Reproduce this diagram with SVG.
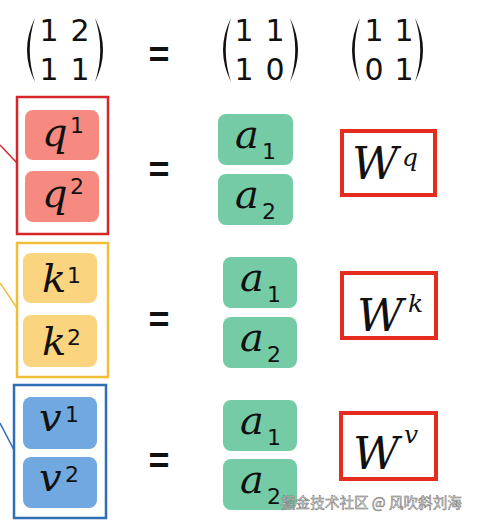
<svg xmlns="http://www.w3.org/2000/svg" width="479" height="524" viewBox="0 0 479 524">
<style>
.dg{font-family:"DejaVu Sans",sans-serif;font-size:30px;fill:#111;text-anchor:middle}
.eq{font-family:"Liberation Sans",sans-serif;font-weight:bold;font-size:36px;fill:#111;text-anchor:middle}
.it{font-family:"DejaVu Serif",serif;font-style:italic;font-size:40px;fill:#111}
.W{font-family:"DejaVu Serif",serif;font-style:italic;font-size:45px;fill:#111}
.sup{font-family:"DejaVu Serif",serif;font-style:italic;font-size:25px;fill:#111}
.sd{font-family:"DejaVu Sans",sans-serif;font-size:22px;fill:#111}
.par{fill:#111}
.qp{fill:#F68A80}
.kp{fill:#FBD47F}
.vp{fill:#70A8DF}
.ap{fill:#74CBA6}
.wb{fill:#fff;stroke:#E42D1E;stroke-width:4}
.wm{font-family:"Noto Sans CJK SC","Noto Sans",sans-serif;font-size:14.6px;fill:#e6e6e6;stroke:#6f6f6f;stroke-width:0.5}
</style>
<rect width="479" height="524" fill="#fff"/>
<g id="matrix-row">
<path class="par" d="M35,18 Q19,50 35,82 Q24.5,50 35,18 Z"/>
<path class="par" d="M95,18 Q111,50 95,82 Q105.5,50 95,18 Z"/>
<text class="dg" x="49" y="41">1</text><text class="dg" x="80" y="41">2</text>
<text class="dg" x="49" y="80">1</text><text class="dg" x="80" y="80">1</text>
<text class="eq" x="159" y="67">=</text>
<path class="par" d="M231,18 Q215,50 231,82 Q220.5,50 231,18 Z"/>
<path class="par" d="M290,18 Q306,50 290,82 Q300.5,50 290,18 Z"/>
<text class="dg" x="244" y="41">1</text><text class="dg" x="275" y="41">1</text>
<text class="dg" x="244" y="80">1</text><text class="dg" x="275" y="80">0</text>
<path class="par" d="M360,18 Q344,50 360,82 Q349.5,50 360,18 Z"/>
<path class="par" d="M415,18 Q431,50 415,82 Q425.5,50 415,18 Z"/>
<text class="dg" x="374" y="41">1</text><text class="dg" x="404" y="41">1</text>
<text class="dg" x="374" y="80">0</text><text class="dg" x="404" y="80">1</text>
</g>
<g id="connectors" stroke-width="1.5" fill="none">
<line x1="0" y1="145" x2="17" y2="163" stroke="#D7262A"/>
<line x1="0" y1="283" x2="17" y2="308" stroke="#F2BE3A"/>
<line x1="0" y1="423" x2="14" y2="450" stroke="#2F6DB5"/>
</g>
<g id="q-group">
<rect x="17" y="97" width="91" height="137" fill="none" stroke="#D7262A" stroke-width="2.5"/>
<rect class="qp" x="25" y="110" width="74" height="50" rx="8"/>
<text class="it" x="42" y="146">q</text><text class="sd" x="70" y="133">1</text>
<rect class="qp" x="25" y="171" width="74" height="51" rx="8"/>
<text class="it" x="42" y="207">q</text><text class="sd" x="70" y="194">2</text>
</g>
<text class="eq" x="159" y="182">=</text>
<g id="a-q">
<rect class="ap" x="218" y="114" width="75" height="51" rx="8"/>
<text class="it" x="235" y="148">a</text><text class="sd" x="262" y="159">1</text>
<rect class="ap" x="218" y="174" width="75" height="51" rx="8"/>
<text class="it" x="235" y="208">a</text><text class="sd" x="262" y="219">2</text>
</g>
<g id="Wq">
<rect class="wb" x="342" y="131" width="93" height="64"/>
<text class="W" x="352" y="179">W</text><text class="sup" x="402" y="166">q</text>
</g>
<g id="k-group">
<rect x="17" y="243" width="91" height="134" fill="none" stroke="#F2BE3A" stroke-width="2.5"/>
<rect class="kp" x="23" y="253" width="74" height="50" rx="8"/>
<text class="it" x="42" y="292">k</text><text class="sd" x="67" y="283">1</text>
<rect class="kp" x="23" y="315" width="74" height="52" rx="8"/>
<text class="it" x="42" y="355">k</text><text class="sd" x="67" y="345">2</text>
</g>
<text class="eq" x="159" y="332">=</text>
<g id="a-k">
<rect class="ap" x="223" y="257" width="74" height="51" rx="8"/>
<text class="it" x="240" y="291">a</text><text class="sd" x="267" y="302">1</text>
<rect class="ap" x="223" y="317" width="74" height="51" rx="8"/>
<text class="it" x="240" y="351">a</text><text class="sd" x="267" y="362">2</text>
</g>
<g id="Wk">
<rect class="wb" x="342" y="273" width="94" height="65"/>
<text class="W" x="357" y="331">W</text><text class="sup" x="408" y="312">k</text>
</g>
<g id="v-group">
<rect x="14" y="385" width="92" height="133" fill="none" stroke="#2F6DB5" stroke-width="2.5"/>
<rect class="vp" x="23" y="397" width="74" height="52" rx="8"/>
<text class="it" x="39" y="431">v</text><text class="sd" x="65" y="422">1</text>
<rect class="vp" x="23" y="457" width="74" height="51" rx="8"/>
<text class="it" x="39" y="491">v</text><text class="sd" x="65" y="482">2</text>
</g>
<text class="eq" x="159" y="473">=</text>
<g id="a-v">
<rect class="ap" x="223" y="400" width="74" height="51" rx="8"/>
<text class="it" x="240" y="434">a</text><text class="sd" x="267" y="445">1</text>
<rect class="ap" x="223" y="459" width="74" height="51" rx="8"/>
<text class="it" x="240" y="493">a</text><text class="sd" x="267" y="504">2</text>
</g>
<g id="Wv">
<rect class="wb" x="341" y="413" width="95" height="66"/>
<text class="W" x="353" y="469">W</text><text class="sup" x="404" y="443">v</text>
</g>
<text class="wm" x="281" y="508">掘金技术社区 @ 风吹斜刘海</text>
</svg>
